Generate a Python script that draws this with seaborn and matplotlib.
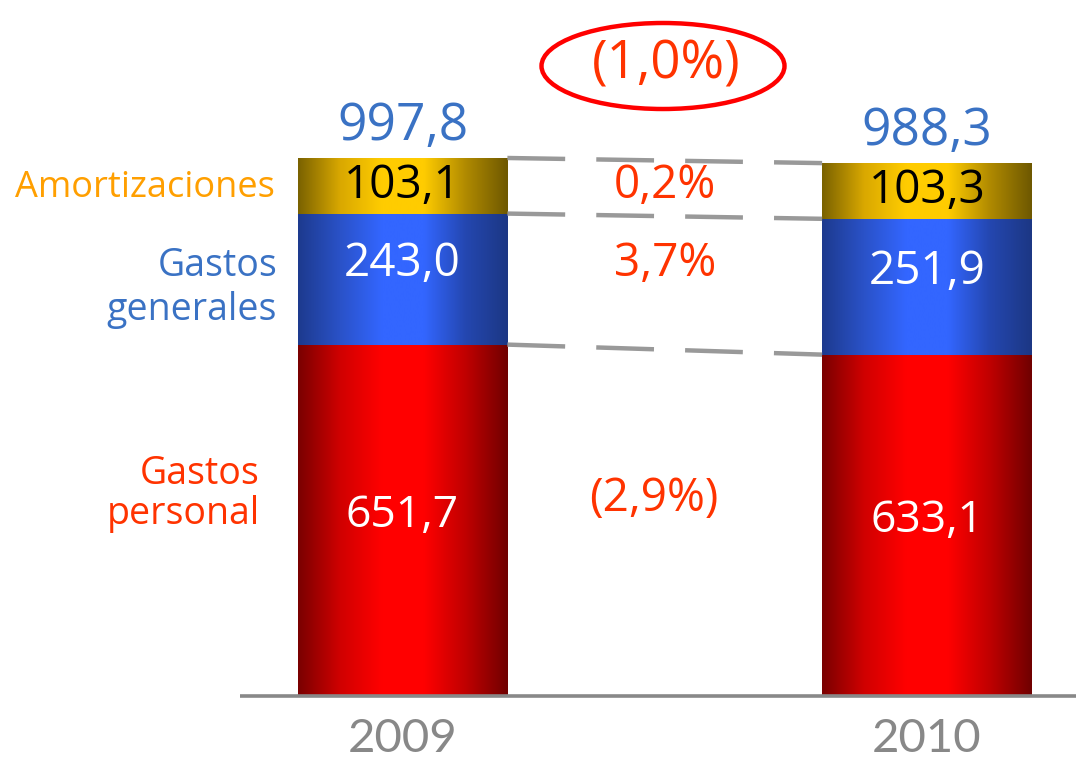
import numpy as np
import pandas as pd
import seaborn as sns
import matplotlib
import matplotlib.pyplot as plt
from matplotlib.colors import LinearSegmentedColormap
from matplotlib.patches import Ellipse

# data
years = ["2009", "2010"]
personal = [651.7, 633.1]
generales = [243.0, 251.9]
amortizaciones = [103.1, 103.3]
totals = [997.8, 988.3]
total_labels = ["997,8", "988,3"]
personal_labels = ["651,7", "633,1"]
generales_labels = ["243,0", "251,9"]
amort_labels = ["103,1", "103,3"]
change_total = "(1,0%)"
change_amort = "0,2%"
change_generales = "3,7%"
change_personal = "(2,9%)"

sns.set_style("white")
plt.rcParams['font.family'] = ['Open Sans', 'DejaVu Sans']

fig = plt.figure(figsize=(10.76, 7.62), dpi=100)
ax = fig.add_axes([0, 0, 1, 1])

df = pd.DataFrame({
  "year": years,
  "top": np.array(personal) + np.array(generales) + np.array(amortizaciones),
  "mid": np.array(personal) + np.array(generales),
  "low": np.array(personal),
})

# stacked bars by overlaying cumulative sums
layers = [("top", "#ffcc00"), ("mid", "#3366ff"), ("low", "#ff0000")]
for col, c in layers:
  sns.barplot(data=df, x="year", y=col, color=c, width=0.40, errorbar=None,
              ax=ax, linewidth=0)

# cylinder-like horizontal gradients
cmaps = [
  LinearSegmentedColormap.from_list("g", ["#7a6200", "#d9a800", "#ffcc00", "#ffcc00", "#b08a00", "#6e5800"]),
  LinearSegmentedColormap.from_list("b", ["#1d3a8e", "#2a52c8", "#3366ff", "#3366ff", "#2447b0", "#1c3784"]),
  LinearSegmentedColormap.from_list("r", ["#7a0000", "#d00000", "#ff0000", "#ff0000", "#c00000", "#700000"]),
]
grad = np.linspace(0, 1, 256).reshape(1, -1)
for k, p in enumerate(ax.patches):
  layer = k // len(years)
  x0, w, h = p.get_x(), p.get_width(), p.get_height()
  im = ax.imshow(grad, cmap=cmaps[layer], aspect='auto',
                 extent=(x0, x0 + w, 0, h), zorder=3 + layer, interpolation='bicubic')
  im.set_clip_path(p)
  p.set_zorder(3 + layer)

# pixel helpers for layout
X0, XS = 402.5, 524.5
YS = 0.5392
def px(x):
  return (x - X0) / XS
def py(y):
  return (696 - y) / YS

ax.set_xlim(px(0), px(1076))
ax.set_ylim(py(762), py(0))
ax.set_axis_off()

# baseline
ax.plot([px(240), px(1076)], [0, 0], color="#888888", lw=2.6, zorder=6, solid_capstyle='butt')

half = 0.20
blue = "#3a72c4"
red = "#ff3300"
for i in range(len(years)):
  ax.annotate(total_labels[i], (i, totals[i]), xytext=(0, 13), textcoords='offset points',
              ha='center', va='baseline', fontsize=37, color=blue, zorder=8)
  ax.text(i, personal[i] / 2 + 8, personal_labels[i], ha='center', va='center',
          fontsize=32, color='white', zorder=8)
  ax.text(i, personal[i] + generales[i] / 2 + 28, generales_labels[i], ha='center', va='center',
          fontsize=33, color='white', zorder=8)
  ax.text(i, personal[i] + generales[i] + amortizaciones[i] / 2, amort_labels[i], ha='center',
          va='center', fontsize=33, color='black', zorder=8)
  ax.text(i, py(739), years[i], ha='center', va='center', fontsize=34,
          color="#888888", family=['Lato', 'DejaVu Sans'], zorder=8)

# dashed connectors
for a in [totals, [p + g for p, g in zip(personal, generales)], personal]:
  ax.plot([0 + half, 1 - half], [a[0], a[1]], color="#999999", lw=3.2,
          dashes=(13, 7), zorder=5)

ax.text(0.5, (totals[0] + personal[0] + generales[0]) / 2, change_amort, ha='center', va='center',
        fontsize=33, color=red, zorder=8)
ax.text(0.5, personal[0] + generales[0] / 2 + 28, change_generales, ha='center', va='center',
        fontsize=33, color=red, zorder=8)
ax.text(0.48, personal[0] / 2 + 40, change_personal, ha='center', va='center',
        fontsize=33, color=red, zorder=8)
ax.text(px(666), py(65), change_total, ha='center', va='center',
        fontsize=38, color=red, zorder=8)
ax.add_patch(Ellipse((px(663), py(66)), 243 / XS, 86 / YS, fill=False,
                     edgecolor="#ff0000", lw=3.2, zorder=8))

# category labels on the left
ax.text(px(275), py(188), "Amortizaciones", ha='right', va='center', fontsize=26,
        color="#ff9f00", zorder=8)
ax.text(px(277), py(288), "Gastos\ngenerales", ha='right', va='center', fontsize=27,
        color=blue, linespacing=1.2, zorder=8)
ax.text(px(260), py(494), "Gastos\npersonal", ha='right', va='center', fontsize=27,
        color=red, linespacing=1.1, zorder=8)

fig.savefig("out.png", dpi=100)
